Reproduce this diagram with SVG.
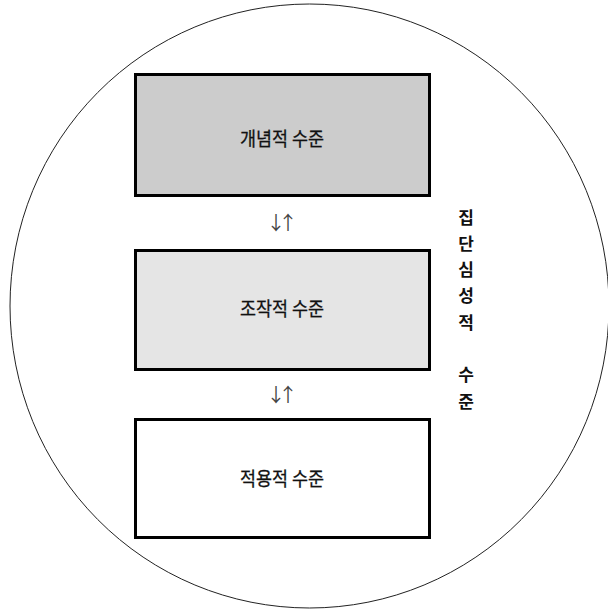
<svg xmlns="http://www.w3.org/2000/svg" width="608" height="610" viewBox="0 0 608 610">
<style>
.box{stroke:#000;stroke-width:3}
.lbl{font-family:"Noto Sans CJK KR","Noto Sans",sans-serif;font-size:19px;fill:#111;text-anchor:middle;stroke:#111;stroke-width:0.3}
.arr{font-family:"Noto Sans CJK KR","DejaVu Sans",sans-serif;font-size:19px;fill:#444}
.vt{font-family:"Noto Sans CJK KR","Noto Sans",sans-serif;font-size:17px;font-weight:bold;fill:#111;text-anchor:middle;dominant-baseline:central}
</style>
<rect width="608" height="610" fill="#fff"/>
<g id="boundary">
<ellipse cx="309.5" cy="306" rx="299.5" ry="302" fill="none" stroke="#222" stroke-width="1"/>
</g>
<g id="conceptual">
<rect class="box" x="135.5" y="74.5" width="294" height="121" fill="#cccccc"/>
<text class="lbl" x="282" y="146" textLength="84" lengthAdjust="spacingAndGlyphs">개념적 수준</text>
</g>
<g id="operational">
<rect class="box" x="135.5" y="250.5" width="294" height="119" fill="#e5e5e5"/>
<text class="lbl" x="282" y="316" textLength="84" lengthAdjust="spacingAndGlyphs">조작적 수준</text>
</g>
<g id="applied">
<rect class="box" x="135.5" y="419.5" width="294" height="118" fill="#ffffff"/>
<text class="lbl" x="282" y="486" textLength="84" lengthAdjust="spacingAndGlyphs">적용적 수준</text>
</g>
<g id="connectors">
<text class="arr" x="266.5" y="230" textLength="31" lengthAdjust="spacing">↓↑</text>
<text class="arr" x="266.5" y="402" textLength="31" lengthAdjust="spacing">↓↑</text>
</g>
<g id="side-label">
<text class="vt" x="466" y="216">집</text>
<text class="vt" x="466" y="242.3">단</text>
<text class="vt" x="466" y="268.6">심</text>
<text class="vt" x="466" y="294.9">성</text>
<text class="vt" x="466" y="321.2">적</text>
<text class="vt" x="466" y="373.8">수</text>
<text class="vt" x="466" y="400.1">준</text>
</g>
</svg>
